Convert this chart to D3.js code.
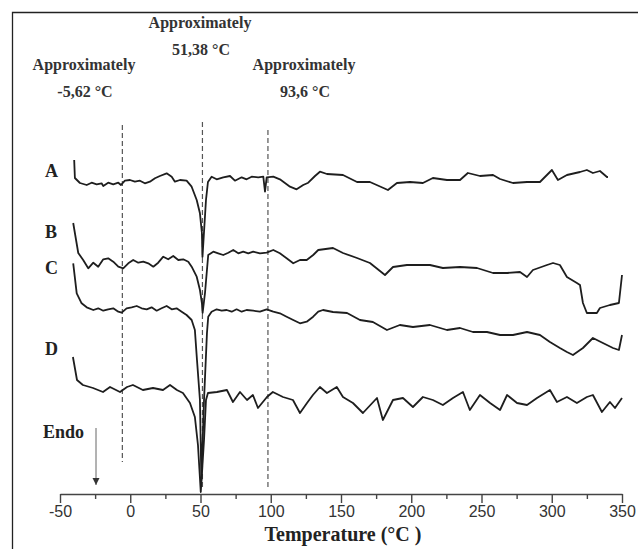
<!DOCTYPE html>
<html>
<head>
<meta charset="utf-8">
<script src="https://cdn.jsdelivr.net/npm/d3@7"></script>
<style>
  body { margin: 0; background: #fff; }
  svg { display: block; }
</style>
</head>
<body>
<svg id="chart"></svg>
<script>
// DSC thermograms, temperature in °C vs heat flow (arbitrary units, curves stacked)
const tempA = [-39.9, -39.4, -35.8, -31.0, -27.5, -23.9, -20.4, -19.2, -15.7, -12.1, -8.5, -6.6, -3.8, -0.2, 3.3, 6.9, 10.4, 14.0, 17.6, 21.1, 25.9, 29.5, 31.8, 35.4, 40.1, 43.7, 47.3, 49.6, 51.0, 51.4, 53.9, 55.3, 57.9, 61.5, 66.2, 71.0, 74.5, 79.3, 82.8, 86.4, 91.1, 94.7, 95.9, 97.1, 101.8, 106.5, 113.7, 118.4, 123.1, 126.7, 131.5, 135.0, 140.0, 151.4, 161.4, 170.6, 183.4, 189.8, 199.1, 208.3, 215.4, 225.4, 234.7, 240.3, 248.9, 258.2, 263.2, 272.4, 282.4, 291.6, 300.1, 304.4, 310.8, 320.1, 325.0, 329.3, 334.3, 339.3, 340.0];
const heatA = [335, 317, 312, 310, 312.3, 310.7, 311.7, 309, 312.3, 310.7, 312.3, 310, 314.3, 315, 313.3, 314.3, 311.7, 313.3, 316.7, 319, 321.7, 318.3, 313.3, 315, 314.3, 308.3, 295, 281.7, 262, 238, 295, 313, 318.3, 315.7, 317.7, 319, 314.3, 317.7, 315.7, 318.3, 317.7, 318.3, 303.3, 317.7, 318.3, 315.7, 308.3, 305.7, 310, 312.3, 319, 323.3, 321, 320, 313, 313, 305, 312, 313, 312, 317, 315, 315, 322, 319, 320, 316, 312, 313, 313, 325, 315, 320, 323, 325, 322, 324, 318, 318];

const tempB = [-40.6, -37.0, -33.5, -29.9, -26.3, -22.8, -19.2, -15.7, -12.1, -8.5, -5.0, -1.4, 2.1, 5.7, 9.3, 12.8, 16.4, 19.9, 23.5, 27.0, 30.6, 34.2, 37.7, 41.3, 43.7, 47.3, 49.6, 51.0, 51.5, 53.2, 55.5, 59.1, 62.6, 66.2, 69.8, 73.3, 76.9, 80.4, 84.0, 87.5, 92.3, 97.1, 101.8, 106.5, 111.3, 116.0, 120.8, 125.6, 130.2, 133.8, 144.3, 151.4, 161.4, 170.6, 181.3, 187.0, 196.9, 206.2, 213.3, 222.5, 234.7, 246.8, 258.2, 268.2, 277.4, 282.4, 286.6, 296.6, 300.9, 305.8, 310.8, 317.9, 320.1, 322.2, 325.0, 332.1, 334.3, 341.4, 347.8, 350.0];
const heatB = [272, 242, 235, 226.7, 232.3, 228.3, 235.7, 236.7, 233.3, 228.3, 226.7, 231.7, 235, 232.3, 233.3, 231.7, 228.3, 232.3, 238.3, 235.7, 239, 235, 235.7, 233.3, 228.3, 218.3, 205, 192, 182, 202, 240, 243.3, 241.7, 240, 242.3, 245, 241.7, 243.3, 241.7, 243.3, 241.7, 242.3, 245, 241.7, 236.7, 231.7, 235, 235, 240, 245, 247, 242, 237, 232, 220, 228, 230, 230, 230, 227, 228, 227, 222, 222, 223, 218, 225, 230, 232, 230, 218, 212, 210, 192, 182, 182, 187, 190, 192, 220];

const tempC = [-40.6, -38.1, -34.6, -31.0, -26.3, -22.8, -19.2, -15.7, -12.1, -8.5, -6.1, -2.6, 1.0, 4.6, 8.1, 11.7, 15.2, 18.8, 22.3, 25.9, 29.5, 33.0, 36.6, 40.1, 43.7, 46.0, 47.5, 49.6, 50.6, 52.5, 54.6, 55.5, 57.9, 61.5, 65.1, 68.6, 72.2, 75.7, 79.3, 82.8, 87.5, 92.3, 97.1, 101.8, 106.5, 111.3, 116.0, 120.8, 125.6, 130.2, 133.8, 137.2, 144.3, 154.3, 163.5, 172.7, 182.7, 191.9, 201.2, 213.3, 225.4, 234.7, 243.9, 253.9, 263.2, 272.4, 282.4, 291.6, 298.7, 305.8, 310.8, 315.1, 322.2, 329.3, 336.4, 343.6, 347.8, 350.0];
const heatC = [231.7, 201.7, 191.7, 187.7, 185, 186.7, 184.3, 185.7, 186.7, 183.3, 182.3, 186.7, 187.7, 189, 186.7, 185.7, 187.7, 184.3, 186.7, 189, 185.7, 186.7, 183.3, 180, 175, 165, 135, 95, 15, 95, 162, 178.3, 183.3, 185.7, 184.3, 185, 183.3, 185.7, 183.3, 185, 184.3, 183.3, 185.7, 183.3, 181.7, 178.3, 175, 171.7, 173.3, 178.3, 183.3, 185, 183, 182, 175, 173, 165, 170, 168, 170, 165, 167, 163, 163, 160, 160, 163, 160, 153, 147, 143, 140, 147, 157, 152, 147, 145, 160];

const tempD = [-40.8, -37.9, -33.7, -26.5, -19.4, -14.4, -7.3, -2.3, 1.9, 9.0, 16.2, 23.3, 28.3, 33.2, 37.5, 42.5, 46.0, 48.2, 50.2, 52.5, 53.9, 55.3, 61.7, 68.8, 73.1, 78.1, 83.1, 87.3, 90.9, 97.3, 101.5, 108.7, 115.8, 120.8, 125.8, 130.0, 135.0, 140.0, 147.0, 151.4, 158.5, 165.6, 175.6, 179.8, 187.0, 194.1, 201.2, 208.3, 215.4, 222.5, 229.7, 236.8, 241.7, 248.9, 256.1, 263.2, 268.2, 275.3, 282.4, 289.5, 298.7, 303.7, 310.8, 317.9, 325.0, 329.3, 335.7, 341.4, 345.0, 350.0];
const heatD = [138, 115, 110, 107, 103, 108, 103, 108, 110, 105, 107, 105, 110, 105, 102, 92, 78, 50, 3, 55, 95, 102, 103, 105, 93, 103, 95, 100, 87, 98, 103, 98, 95, 82, 92, 100, 108, 102, 108, 98, 92, 82, 97, 75, 95, 97, 88, 98, 95, 90, 97, 103, 85, 100, 92, 85, 100, 92, 90, 97, 105, 93, 98, 92, 98, 100, 83, 93, 87, 97];

const curveNames = ["A", "B", "C", "D"];
const curveLabelY = [177, 238, 274, 355];
const markerTemps = [-5.62, 51.38, 98];
const markerLabels = ["-5,62 °C", "51,38 °C", "93,6 °C"];
const xTicks = [-50, 0, 50, 100, 150, 200, 250, 300, 350];
const xMinorTicks = [-25, 25, 75, 125, 175, 225, 275, 325];

const width = 638, height = 549;
const svg = d3.select("#chart").attr("width", width).attr("height", height);

const x = d3.scaleLinear().domain([-50, 350]).range([60, 622]);
const y = d3.scaleLinear().domain([0, 380]).range([495, 115]);

// frame (cropped figure: only left and top edges visible)
svg.append("path")
  .attr("d", "M12.5,549 L12.5,12.5 L638,12.5")
  .attr("fill", "none")
  .attr("stroke", "#222")
  .attr("stroke-width", 1.3);

// dashed guide lines
const markerTop = [125, 122, 130];
const markerBottom = [462, 490, 487];
svg.append("g").selectAll("line")
  .data(markerTemps)
  .join("line")
  .attr("x1", d => x(d)).attr("x2", d => x(d))
  .attr("y1", (d, i) => markerTop[i])
  .attr("y2", (d, i) => markerBottom[i])
  .attr("stroke", "#555")
  .attr("stroke-width", 1.2)
  .attr("stroke-dasharray", "5,3");

// curves
const series = [
  d3.zip(tempA, heatA),
  d3.zip(tempB, heatB),
  d3.zip(tempC, heatC),
  d3.zip(tempD, heatD)
];
const line = d3.line().x(d => x(d[0])).y(d => y(d[1]));
svg.append("g").selectAll("path")
  .data(series)
  .join("path")
  .attr("d", line)
  .attr("fill", "none")
  .attr("stroke", "#1e1e1e")
  .attr("stroke-width", 1.8)
  .attr("stroke-linejoin", "round");

// x axis
const axisY = 494;
const axis = svg.append("g")
  .attr("transform", `translate(0,${axisY})`)
  .call(d3.axisBottom(x).tickValues(xTicks).tickFormat(d => String(d))
    .tickSize(9).tickSizeOuter(0).tickPadding(3));
axis.select(".domain").attr("stroke", "#444").attr("stroke-width", 1.4);
axis.selectAll(".tick line").attr("stroke", "#444").attr("stroke-width", 1.4);
axis.selectAll(".tick text")
  .attr("font-family", "'Liberation Sans', Arial, sans-serif")
  .attr("font-size", 16)
  .attr("fill", "#333");

svg.append("g")
  .attr("transform", `translate(0,${axisY})`)
  .call(d3.axisBottom(x).tickValues(xMinorTicks).tickSize(5).tickFormat(""))
  .call(g => g.select(".domain").remove())
  .selectAll(".tick line").attr("stroke", "#444").attr("stroke-width", 1.4);

svg.append("text")
  .attr("x", 343).attr("y", 541)
  .attr("text-anchor", "middle")
  .attr("font-family", "'Liberation Serif', 'Times New Roman', serif")
  .attr("font-weight", "bold")
  .attr("font-size", 20)
  .attr("fill", "#222")
  .text("Temperature (°C )");

// curve labels
const serif = "'Liberation Serif', 'Times New Roman', serif";
svg.append("g").selectAll("text")
  .data(curveNames)
  .join("text")
  .attr("x", 45)
  .attr("y", (d, i) => curveLabelY[i])
  .attr("font-family", serif)
  .attr("font-weight", "bold")
  .attr("font-size", 18)
  .attr("fill", "#222")
  .text(d => d);

svg.append("text")
  .attr("x", 43).attr("y", 438)
  .attr("font-family", serif)
  .attr("font-weight", "bold")
  .attr("font-size", 18)
  .attr("fill", "#222")
  .text("Endo");

// endo arrow
svg.append("defs").append("marker")
  .attr("id", "arrow")
  .attr("viewBox", "0 0 10 10")
  .attr("refX", 10).attr("refY", 5)
  .attr("markerWidth", 7).attr("markerHeight", 9)
  .attr("markerUnits", "userSpaceOnUse")
  .attr("orient", "auto")
  .append("path")
  .attr("d", "M0,0 L10,5 L0,10 Z")
  .attr("fill", "#333");
svg.append("line")
  .attr("x1", 96).attr("x2", 96)
  .attr("y1", 428).attr("y2", 485)
  .attr("stroke", "#666")
  .attr("stroke-width", 1)
  .attr("marker-end", "url(#arrow)");

// annotations
const annX = [84, 200, 304];
const annY = [70, 28, 70];
const ann = svg.append("g")
  .attr("font-family", serif)
  .attr("font-weight", "bold")
  .attr("font-size", 16)
  .attr("fill", "#333")
  .attr("text-anchor", "middle");
markerLabels.forEach((lab, i) => {
  ann.append("text").attr("x", annX[i]).attr("y", annY[i]).text("Approximately");
  ann.append("text").attr("x", annX[i] + 1).attr("y", annY[i] + 27).text(lab);
});
</script>
</body>
</html>
